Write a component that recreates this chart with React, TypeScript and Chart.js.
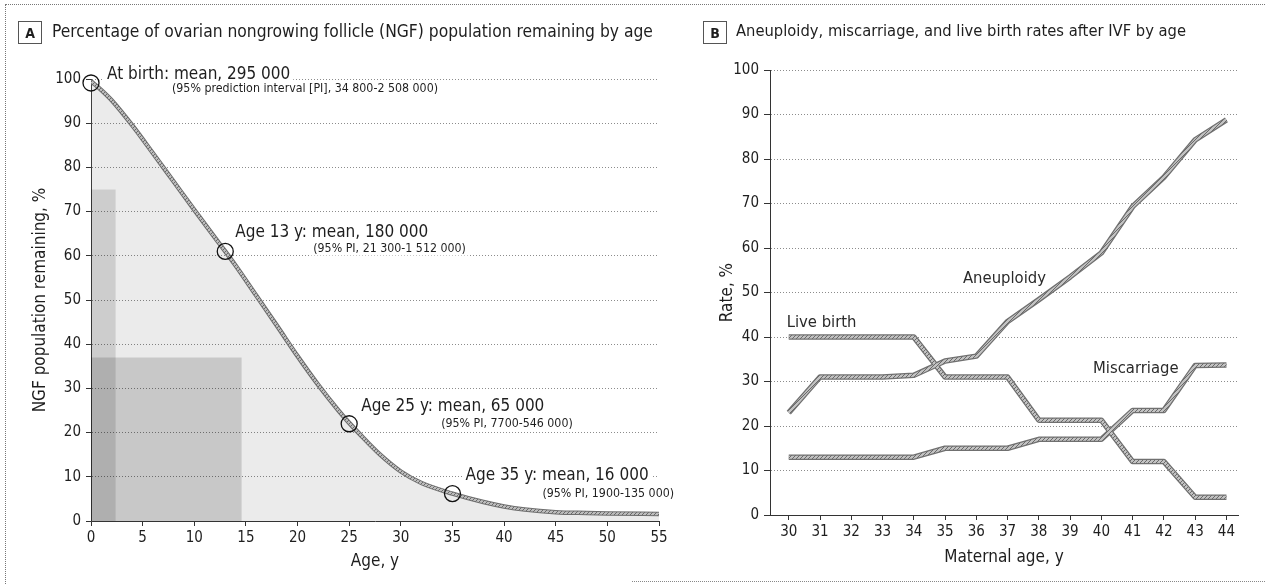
import React, { useEffect, useRef } from 'react';
import { Chart, registerables } from 'chart.js';
Chart.register(...registerables);

// ---------- Panel A data ----------
const ngfAges = [0, 1, 2, 4, 6, 8, 10, 12, 13, 14, 16, 18, 20, 22, 24, 25, 26, 28, 30, 32, 35, 38, 40, 42, 45, 48, 50, 55];
const ngfPct = [99.5, 97.5, 95.2, 89.5, 83.2, 76.8, 70.4, 64.1, 61, 57.8, 51, 44.2, 37.3, 30.8, 24.9, 22.2, 19.7, 15, 11.2, 8.6, 6.2, 4.3, 3.3, 2.6, 2.0, 1.8, 1.7, 1.6];
const ageTicks = [0, 5, 10, 15, 20, 25, 30, 35, 40, 45, 50, 55];
const pctTicks = [0, 10, 20, 30, 40, 50, 60, 70, 80, 90, 100];
const markerAges = [0, 13, 25, 35];
const markerPct = [99.1, 61, 22, 6.2];
const markerTitles = ['At birth: mean, 295 000', 'Age 13 y: mean, 180 000', 'Age 25 y: mean, 65 000', 'Age 35 y: mean, 16 000'];
const markerSubs = ['(95% prediction interval [PI], 34 800-2 508 000)', '(95% PI, 21 300-1 512 000)', '(95% PI, 7700-546 000)', '(95% PI, 1900-135 000)'];
const infantBandAges = [0, 2.4];
const infantBandPct = 75;
const childBandAges = [0, 14.6];
const childBandPct = 37;

// ---------- Panel B data ----------
const maternalAges = [30, 31, 32, 33, 34, 35, 36, 37, 38, 39, 40, 41, 42, 43, 44];
const aneuploidy = [23, 31, 31, 31, 31.4, 34.6, 35.7, 43.5, 48.4, 53.5, 58.9, 69.3, 75.9, 84.3, 88.8];
const liveBirth = [40, 40, 40, 40, 40, 31, 31, 31, 21.3, 21.3, 21.3, 12, 12, 4, 4];
const miscarriage = [13, 13, 13, 13, 13, 15, 15, 15, 17, 17, 17, 23.5, 23.5, 33.6, 33.7];
const rateTicks = [0, 10, 20, 30, 40, 50, 60, 70, 80, 90, 100];
const seriesNames = ['Aneuploidy', 'Live birth', 'Miscarriage'];

// label anchors (data coordinates) and text offsets (pixels)
const B_LABEL_ANCHORS = [{ x: 36.9, y: 53.1 }, { x: 31.05, y: 43.1 }, { x: 41.1, y: 32.8 }];
const A_TEXT_OFFSETS = [
  { tx: 16, ty: -8, sx: 81, sy: 6 },
  { tx: 10, ty: -19, sx: 88, sy: -3 },
  { tx: 12, ty: -17, sx: 92, sy: 0 },
  { tx: 13, ty: -18, sx: 90, sy: 0 },
];

const FONT = "'DejaVu Sans Condensed', 'DejaVu Sans', sans-serif";
const TXT = '#1e1e1e';

function hatch(light: string, dark: string) {
  const c = document.createElement('canvas');
  c.width = 4; c.height = 4;
  const g = c.getContext('2d')!;
  g.fillStyle = light; g.fillRect(0, 0, 4, 4);
  g.fillStyle = dark;
  g.fillRect(0, 0, 1, 1); g.fillRect(2, 2, 1, 1); g.fillRect(1, 3, 1, 1); g.fillRect(3, 1, 1, 1);
  return g.createPattern(c, 'repeat') as CanvasPattern;
}

function drawLabel(ctx: CanvasRenderingContext2D, text: string, x: number, y: number, size: number, bg: boolean) {
  ctx.font = `${size}px ${FONT}`;
  ctx.textBaseline = 'middle';
  ctx.textAlign = 'left';
  const w = ctx.measureText(text).width;
  if (bg) {
    ctx.fillStyle = '#fff';
    ctx.fillRect(x - 3, y - size / 2 - 1, w + 6, size + 2);
  }
  ctx.fillStyle = TXT;
  ctx.fillText(text, x, y);
}

const gridColor = (c: any) => (c.tick && c.tick.value === 0 ? 'rgba(0,0,0,0)' : '#8c8c8c');

function PanelA() {
  const ref = useRef<HTMLCanvasElement>(null);
  useEffect(() => {
    const ctx = ref.current!.getContext('2d')!;
    const curve = ngfAges.map((a, i) => ({ x: a, y: ngfPct[i] }));
    const markers = markerAges.map((a, i) => ({ x: a, y: markerPct[i] }));
    const infant = infantBandAges.map((a) => ({ x: a, y: infantBandPct }));
    const child = childBandAges.map((a) => ({ x: a, y: childBandPct }));
    const annot = {
      id: 'annotA',
      afterDatasetsDraw(chart: any) {
        const { ctx: c, scales } = chart;
        c.save();
        markerAges.forEach((age, i) => {
          const px = scales.x.getPixelForValue(age);
          const py = scales.y.getPixelForValue(markerPct[i]);
          const o = A_TEXT_OFFSETS[i];
          drawLabel(c, markerTitles[i], px + o.tx, py + o.ty, 17, true);
          drawLabel(c, markerSubs[i], px + o.sx, py + o.sy, 12.3, true);
        });
        c.restore();
      },
    };
    const chart = new Chart(ctx, {
      type: 'line',
      data: {
        datasets: [
          { data: markers, showLine: false, pointRadius: 8, pointHoverRadius: 8, pointBorderWidth: 1.3, pointBorderColor: '#111', pointBackgroundColor: 'rgba(0,0,0,0)', clip: false as any, order: 0 },
          { data: curve, borderColor: hatch('#bdbdbd', '#6a6a6a'), borderWidth: 2.5, pointRadius: 0, cubicInterpolationMode: 'monotone', order: 1 },
          { data: curve, borderColor: '#6e6e6e', borderWidth: 4.5, pointRadius: 0, cubicInterpolationMode: 'monotone', order: 2 },
          { data: curve, borderWidth: 0, pointRadius: 0, fill: 'origin', backgroundColor: 'rgba(0,0,0,0.08)', cubicInterpolationMode: 'monotone', order: 5 },
          { data: child, borderWidth: 0, pointRadius: 0, fill: 'origin', backgroundColor: 'rgba(0,0,0,0.15)', order: 4 },
          { data: infant, borderWidth: 0, pointRadius: 0, fill: 'origin', backgroundColor: 'rgba(0,0,0,0.13)', order: 3 },
        ] as any,
      },
      options: {
        responsive: false,
        animation: false,
        events: [],
        plugins: { legend: { display: false }, tooltip: { enabled: false } },
        layout: { padding: { left: 0, top: 79, right: 31, bottom: 0 } },
        scales: {
          x: {
            type: 'linear', min: 0, max: 55,
            afterBuildTicks: (s: any) => { s.ticks = ageTicks.map((v) => ({ value: v })); },
            afterFit: (s: any) => { s.height = 63; },
            grid: { drawOnChartArea: false, drawTicks: true, tickLength: 5, tickColor: '#333', tickWidth: 1 },
            border: { color: '#333', width: 1 },
            ticks: { font: { family: FONT, size: 15 }, color: TXT, padding: 3, maxRotation: 0 },
            title: { display: true, text: 'Age, y', font: { family: FONT, size: 17 }, color: TXT, padding: { top: 0, bottom: 12 } },
          },
          y: {
            type: 'linear', min: 0, max: 100,
            afterBuildTicks: (s: any) => { s.ticks = pctTicks.map((v) => ({ value: v })); },
            afterFit: (s: any) => { s.width = 91; },
            grid: { color: gridColor, lineWidth: 1, drawTicks: true, tickLength: 5, tickColor: '#333', tickBorderDash: [], tickWidth: 1 },
            border: { color: '#444', width: 1, dash: [1, 2] },
            ticks: { font: { family: FONT, size: 15 }, color: TXT, padding: 5 },
            title: { display: true, text: 'NGF population remaining, %', font: { family: FONT, size: 17 }, color: TXT, padding: { top: 30, bottom: 0 } },
          },
        },
      } as any,
      plugins: [annot],
    });
    return () => chart.destroy();
  }, []);
  return <canvas ref={ref} width={690} height={584} style={{ position: 'absolute', left: 0, top: 0, width: 690, height: 584 }} />;
}

function PanelB() {
  const ref = useRef<HTMLCanvasElement>(null);
  useEffect(() => {
    const ctx = ref.current!.getContext('2d')!;
    const series = [aneuploidy, liveBirth, miscarriage];
    const datasets: any[] = [];
    series.forEach((vals, k) => {
      const pts = maternalAges.map((a, i) => ({ x: a, y: vals[i] }));
      datasets.push({ data: pts, borderColor: hatch('#c2c2c2', '#6a6a6a'), borderWidth: 3, pointRadius: 0, borderJoinStyle: 'round', order: 1, label: seriesNames[k] });
      datasets.push({ data: pts, borderColor: '#707070', borderWidth: 5.5, pointRadius: 0, borderJoinStyle: 'round', order: 2 });
    });
    const labels = {
      id: 'labelsB',
      afterDatasetsDraw(chart: any) {
        const { ctx: c, scales } = chart;
        c.save();
        c.font = `16.5px ${FONT}`;
        c.textAlign = 'center';
        c.textBaseline = 'middle';
        c.fillStyle = '#2a2a2a';
        seriesNames.forEach((n, i) => {
          c.fillText(n, scales.x.getPixelForValue(B_LABEL_ANCHORS[i].x), scales.y.getPixelForValue(B_LABEL_ANCHORS[i].y));
        });
        c.restore();
      },
    };
    const chart = new Chart(ctx, {
      type: 'line',
      data: { datasets },
      options: {
        responsive: false,
        animation: false,
        events: [],
        plugins: { legend: { display: false }, tooltip: { enabled: false } },
        layout: { padding: { left: 0, top: 70, right: 27, bottom: 0 } },
        scales: {
          x: {
            type: 'linear', min: 29.4, max: 44.37,
            afterBuildTicks: (s: any) => { s.ticks = maternalAges.map((v) => ({ value: v })); },
            afterFit: (s: any) => { s.height = 69; },
            grid: { drawOnChartArea: false, drawTicks: true, tickLength: 5, tickColor: '#333', tickWidth: 1 },
            border: { color: '#333', width: 1 },
            ticks: { font: { family: FONT, size: 15 }, color: TXT, padding: 3, maxRotation: 0 },
            title: { display: true, text: 'Maternal age, y', font: { family: FONT, size: 17 }, color: TXT, padding: { top: 0, bottom: 16 } },
          },
          y: {
            type: 'linear', min: 0, max: 100,
            afterBuildTicks: (s: any) => { s.ticks = rateTicks.map((v) => ({ value: v })); },
            afterFit: (s: any) => { s.width = 80; },
            grid: { color: gridColor, lineWidth: 1, drawTicks: true, tickLength: 6, tickColor: '#333', tickBorderDash: [], tickWidth: 1 },
            border: { color: '#333', width: 1, dash: [1, 2] },
            ticks: { font: { family: FONT, size: 15 }, color: TXT, padding: 5 },
            title: { display: true, text: 'Rate, %', font: { family: FONT, size: 17 }, color: TXT, padding: { top: 27, bottom: 0 } },
          },
        },
      } as any,
      plugins: [labels],
    });
    return () => chart.destroy();
  }, []);
  return <canvas ref={ref} width={575} height={584} style={{ position: 'absolute', left: 690, top: 0, width: 575, height: 584 }} />;
}

const boxStyle = (left: number): React.CSSProperties => ({
  position: 'absolute', left, top: 21, width: 24, height: 23, boxSizing: 'border-box',
  border: '1px solid #555', font: `bold 14px ${FONT}`, color: TXT,
  display: 'flex', alignItems: 'center', justifyContent: 'center',
});
const titleStyle = (left: number, size: number): React.CSSProperties => ({
  position: 'absolute', left, top: 21, height: 22, lineHeight: '22px',
  font: `${size}px ${FONT}`, color: TXT, whiteSpace: 'nowrap',
});

export default function App() {
  return (
    <div style={{ position: 'absolute', left: 0, top: 0, width: 1265, height: 584, background: '#fff', overflow: 'hidden' }}>
      <div style={{ position: 'absolute', left: 5, top: 4, width: 1260, height: 0, borderTop: '1px dotted #777' }} />
      <div style={{ position: 'absolute', left: 5, top: 4, width: 0, height: 580, borderLeft: '1px dotted #777' }} />
      <div style={{ position: 'absolute', left: 632, top: 581, width: 633, height: 0, borderTop: '1px dotted #888' }} />
      <PanelA />
      <PanelB />
      <div style={boxStyle(18)}>A</div>
      <div style={titleStyle(52, 17.3)}>Percentage of ovarian nongrowing follicle (NGF) population remaining by age</div>
      <div style={boxStyle(703)}>B</div>
      <div style={titleStyle(736, 16.4)}>Aneuploidy, miscarriage, and live birth rates after IVF by age</div>
    </div>
  );
}
